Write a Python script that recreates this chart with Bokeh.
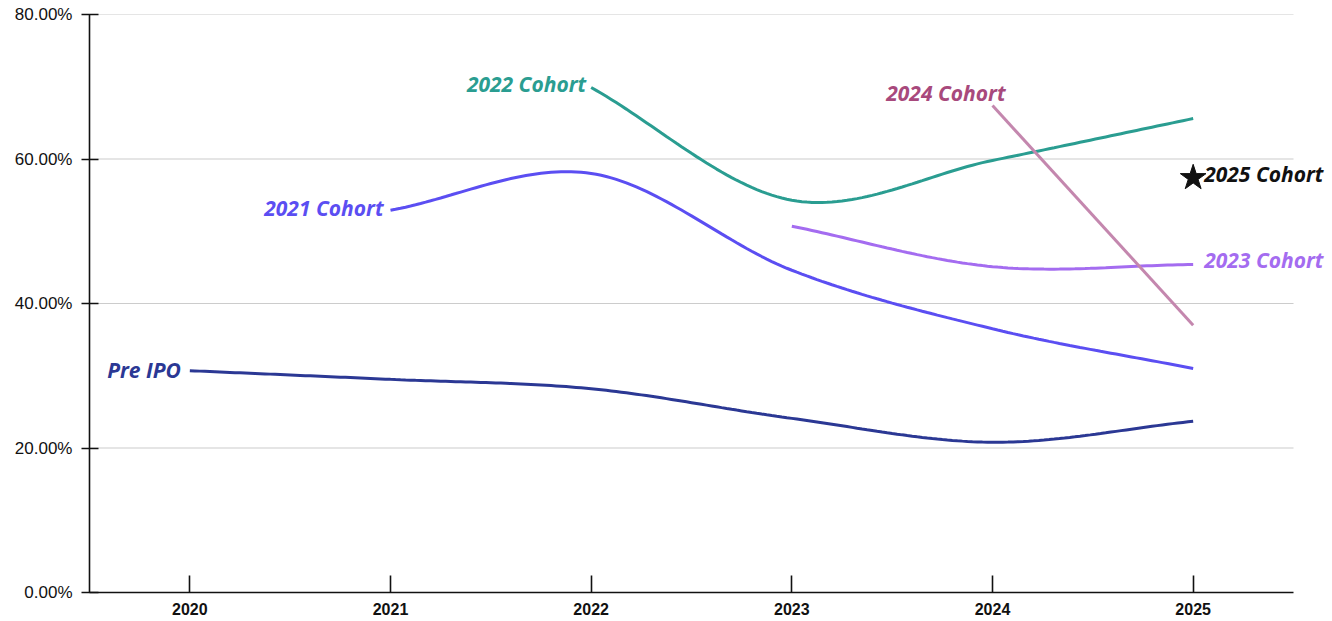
import numpy as np
from bokeh.plotting import figure
from bokeh.models import Range1d, FixedTicker, Label
from bokeh.embed import file_html
from bokeh.resources import INLINE

# ---- data (percent) ----
years = [2020, 2021, 2022, 2023, 2024, 2025]
year_labels = ["2020", "2021", "2022", "2023", "2024", "2025"]
y_ticks = [0, 20, 40, 60, 80]
y_tick_labels = ["0.00%", "20.00%", "40.00%", "60.00%", "80.00%"]

pre_ipo_x = [2020, 2021, 2022, 2023, 2024, 2025]
pre_ipo_y = [30.7, 29.5, 28.2, 24.1, 20.8, 23.7]
c2021_x = [2021, 2022, 2023, 2024, 2025]
c2021_y = [52.9, 58.0, 44.6, 36.5, 31.0]
c2022_x = [2022, 2023, 2024, 2025]
c2022_y = [69.9, 54.3, 59.8, 65.6]
c2023_x = [2023, 2024, 2025]
c2023_y = [50.7, 45.1, 45.4]
c2024_x = [2024, 2025]
c2024_y = [67.4, 37.0]
c2025_x = [2025]
c2025_y = [57.4]


def catmull_rom(xs, ys, n=40):
    """Smooth rendering of a series through its points (uniform Catmull-Rom)."""
    xs = np.asarray(xs, float)
    ys = np.asarray(ys, float)
    if len(xs) < 3:
        return list(xs), list(ys)
    k = len(xs)
    m = np.zeros(k)
    for i in range(k):
        a, b = ys[max(i - 1, 0)], ys[min(i + 1, k - 1)]
        xa, xb = xs[max(i - 1, 0)], xs[min(i + 1, k - 1)]
        m[i] = (b - a) / (xb - xa)
    outx, outy = [], []
    for i in range(k - 1):
        h = xs[i + 1] - xs[i]
        t = np.linspace(0, 1, n, endpoint=(i == k - 2))
        h00 = 2 * t**3 - 3 * t**2 + 1
        h10 = t**3 - 2 * t**2 + t
        h01 = -2 * t**3 + 3 * t**2
        h11 = t**3 - t**2
        yy = h00 * ys[i] + h10 * h * m[i] + h01 * ys[i + 1] + h11 * h * m[i + 1]
        outx.extend(list(xs[i] + t * h))
        outy.extend(list(yy))
    return outx, outy


# layout: axis area spans 2019.5..2025.5 over 1204px; frame extends further
# right (without axis/grid) so the end labels are not clipped
W, H = 1330, 620
LEFT, TOP, BOTTOM = 89, 14, 28
AXIS_W = 1204
x0, x1 = 2019.5, 2025.5
frame_w = W - LEFT
x_end = x0 + (x1 - x0) * frame_w / AXIS_W

p = figure(width=W, height=H, output_backend="svg", toolbar_location=None,
           x_range=Range1d(x0, x_end), y_range=Range1d(0, 80),
           min_border_left=LEFT, min_border_right=0, min_border_top=TOP,
           min_border_bottom=BOTTOM)
p.outline_line_color = None
p.background_fill_color = "white"

# axes
p.xaxis.ticker = FixedTicker(ticks=years)
p.xaxis.major_label_overrides = {y: l for y, l in zip(years, year_labels)}
p.xaxis.bounds = (x0, x1)
p.yaxis.ticker = FixedTicker(ticks=y_ticks)
p.yaxis.major_label_overrides = {y: l for y, l in zip(y_ticks, y_tick_labels)}
for ax in (p.xaxis[0], p.yaxis[0]):
    ax.axis_line_color = "#111111"
    ax.axis_line_width = 1.6
    ax.major_tick_line_color = "#111111"
    ax.major_tick_line_width = 1.6
    ax.minor_tick_line_color = None
    ax.major_label_text_font = "Liberation Sans"
    ax.major_label_text_font_size = "17px"
    ax.major_label_text_color = "#111111"
p.xaxis.major_tick_in = 17
p.xaxis.major_tick_out = 0
p.xaxis.major_label_standoff = 10
p.xaxis.major_label_text_font_style = "bold"
p.xaxis.major_label_text_font_size = "16px"
p.yaxis.major_tick_in = 9
p.yaxis.major_tick_out = 8
p.yaxis.major_label_standoff = 9

# horizontal grid lines limited to the axis extent
p.xgrid.grid_line_color = None
p.ygrid.grid_line_color = None
grid_vals = y_ticks[1:]
p.segment(x0=[x0] * len(grid_vals), x1=[x1] * len(grid_vals),
          y0=grid_vals, y1=grid_vals, line_color="#cccccc", line_width=1.2,
          level="underlay")

series = [
    (pre_ipo_x, pre_ipo_y, "#2b3894"),
    (c2021_x, c2021_y, "#5b4ef2"),
    (c2022_x, c2022_y, "#2a9d91"),
    (c2023_x, c2023_y, "#a46cf0"),
    (c2024_x, c2024_y, "#c487ae"),
]
for xs, ys, col in series:
    sx, sy = catmull_rom(xs, ys)
    p.line(sx, sy, line_color=col, line_width=3)

p.scatter(c2025_x, c2025_y, marker="star", size=27, fill_color="#111111",
          line_color="#111111")

font = "Open Sans"
fs = "21px"
labels = [
    ("Pre IPO", pre_ipo_x[0], pre_ipo_y[0], -9, 1, "right", "#2b3894"),
    ("2021 Cohort", c2021_x[0], c2021_y[0], -7, 2, "right", "#5b4ef2"),
    ("2022 Cohort", c2022_x[0], c2022_y[0], -5, 3, "right", "#2a9d91"),
    ("2024 Cohort", c2024_x[0], c2024_y[0], 13, 13, "right", "#a8497c"),
    ("2023 Cohort", c2023_x[-1], c2023_y[-1], 11, 4, "left", "#a46cf0"),
    ("2025 Cohort", c2025_x[0], c2025_y[0], 11, 4, "left", "#111111"),
]
for txt, x, y, xo, yo, align, col in labels:
    p.add_layout(Label(x=x, y=y, text=txt, x_offset=xo, y_offset=yo,
                       text_align=align, text_baseline="middle",
                       text_font=font, text_font_size=fs,
                       text_font_style="bold italic", text_color=col))

open("out.html", "w").write(file_html(p, INLINE))
